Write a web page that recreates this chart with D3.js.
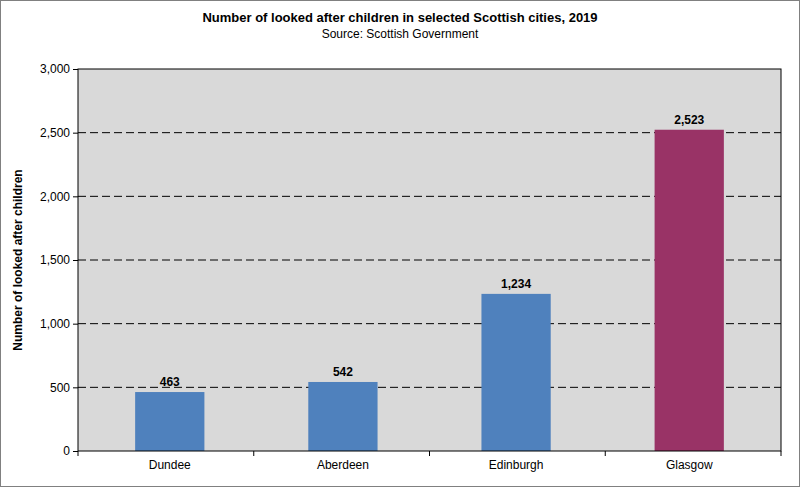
<!DOCTYPE html>
<html><head><meta charset="utf-8">
<script src="https://cdn.jsdelivr.net/npm/d3@7"></script>
<style>body{margin:0;background:#fff}svg{display:block;font-family:"Liberation Sans",Arial,sans-serif}</style>
</head><body><svg id="c" width="800" height="487"></svg>
<script>
const categories=["Dundee","Aberdeen","Edinburgh","Glasgow"];
const values=[463,542,1234,2523];
const colors=["#4f81bd","#4f81bd","#4f81bd","#993366"];
const yTicks=[0,500,1000,1500,2000,2500,3000];
const svg=d3.select("#c");
const m={l:78,r:781,t:69,b:451};
svg.append("rect").attr("x",0.5).attr("y",0.5).attr("width",799).attr("height",486).attr("fill","#fff").attr("stroke","#808080");
svg.append("rect").attr("x",m.l).attr("y",m.t).attr("width",m.r-m.l).attr("height",m.b-m.t).attr("fill","#d9d9d9");
const x=d3.scaleBand().domain(categories).range([m.l,m.r]).paddingInner(0.6).paddingOuter(0.33);
const y=d3.scaleLinear().domain([0,3000]).range([m.b,m.t]);
svg.append("g").selectAll("line").data(yTicks.filter(d=>d>0&&d<3000)).join("line")
 .attr("x1",m.l).attr("x2",m.r).attr("y1",d=>y(d)).attr("y2",d=>y(d))
 .attr("stroke","#000").attr("stroke-dasharray","8,4");
svg.append("g").selectAll("rect").data(values).join("rect")
 .attr("x",(d,i)=>x(categories[i])).attr("width",x.bandwidth())
 .attr("y",d=>y(d)).attr("height",d=>m.b-y(d)).attr("fill",(d,i)=>colors[i]);
svg.append("g").selectAll("text").data(values).join("text")
 .attr("x",(d,i)=>x(categories[i])+x.bandwidth()/2).attr("y",d=>y(d)-6)
 .attr("text-anchor","middle").attr("font-size",12).attr("font-weight","bold").text(d3.format(","));
svg.append("rect").attr("x",m.l).attr("y",m.t).attr("width",m.r-m.l).attr("height",m.b-m.t).attr("fill","none").attr("stroke","#000");
const ya=svg.append("g").attr("transform",`translate(${m.l},0)`).call(d3.axisLeft(y).tickValues(yTicks).tickFormat(d3.format(",")).tickSize(5));
ya.select(".domain").remove();
ya.selectAll("text").attr("font-size",12).attr("fill","#000").attr("font-family","Liberation Sans, Arial");
const xa=svg.append("g").attr("transform",`translate(0,${m.b})`).call(d3.axisBottom(x).tickSize(0).tickPadding(9));
xa.select(".domain").remove();
xa.selectAll("text").attr("font-size",12).attr("fill","#000").attr("font-family","Liberation Sans, Arial");
svg.append("g").attr("transform",`translate(${m.l},${m.b})`).selectAll("line").data(d3.range(5)).join("line")
 .attr("x1",i=>i*(m.r-m.l)/4).attr("x2",i=>i*(m.r-m.l)/4).attr("y1",0).attr("y2",5).attr("stroke","#000");
svg.append("text").attr("x",400).attr("y",22).attr("text-anchor","middle").attr("font-size",13).attr("font-weight","bold").text("Number of looked after children in selected Scottish cities, 2019");
svg.append("text").attr("x",400).attr("y",38).attr("text-anchor","middle").attr("font-size",12).text("Source: Scottish Government");
svg.append("text").attr("transform","translate(22,260) rotate(-90)").attr("text-anchor","middle").attr("font-size",12).attr("font-weight","bold").text("Number of looked after children");
</script></body></html>
